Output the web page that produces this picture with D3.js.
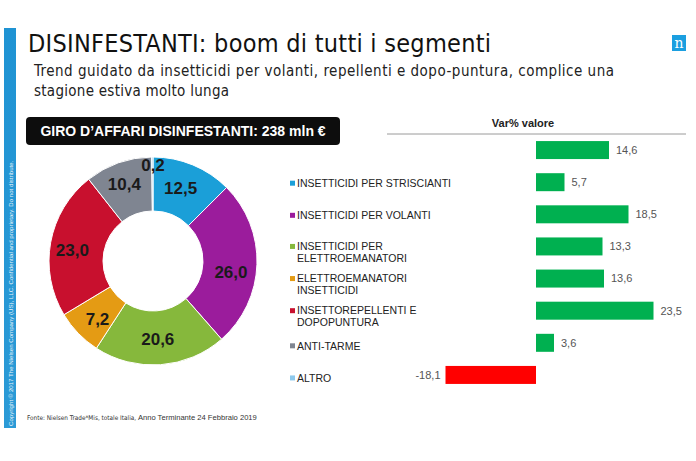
<!DOCTYPE html>
<html lang="it">
<head>
<meta charset="UTF-8">
<title>DISINFESTANTI: boom di tutti i segmenti</title>
<script src="https://d3js.org/d3.v7.min.js"></script>
<style>
    body { margin: 0; padding: 0; background: #fff; }
    svg { display: block; font-family: "Liberation Sans", Arial, sans-serif; }
    .title { font-family: "DejaVu Sans Condensed", "DejaVu Sans", sans-serif; }
</style>
</head>
<body>
<svg id="chart" width="696" height="461"></svg>
<script>
    // quota % del giro d'affari (ciambella)
    const segments = ["INSETTICIDI PER STRISCIANTI", "INSETTICIDI PER VOLANTI", "INSETTICIDI PER ELETTROEMANATORI",
        "ELETTROEMANATORI INSETTICIDI", "INSETTOREPELLENTI E DOPOPUNTURA", "ANTI-TARME", "ALTRO"];
    const legendLines = [["INSETTICIDI PER STRISCIANTI"], ["INSETTICIDI PER VOLANTI"], ["INSETTICIDI PER", "ELETTROEMANATORI"],
        ["ELETTROEMANATORI", "INSETTICIDI"], ["INSETTOREPELLENTI E", "DOPOPUNTURA"], ["ANTI-TARME"], ["ALTRO"]];
    const shares = [12.5, 26.0, 20.6, 7.2, 23.0, 10.4, 0.2];
    const segColors = ["#1b9fd8", "#9b1c9c", "#86b83c", "#e49b14", "#c8102e", "#7f8591", "#8ec9ec"];

    // Var% valore (barre): prima riga = totale
    const barCats = ["TOTALE"].concat(segments);
    const varValues = [14.6, 5.7, 18.5, 13.3, 13.6, 23.5, 3.6, -18.1];

    const fmt = v => v.toFixed(1).replace(".", ",");

    const svg = d3.select("#chart");

    // barra laterale blu
    const defs = svg.append("defs");
    const grad = defs.append("linearGradient").attr("id", "side").attr("x1", 0).attr("y1", 0).attr("x2", 0).attr("y2", 1);
    grad.append("stop").attr("offset", "0%").attr("stop-color", "#1f93d3");
    grad.append("stop").attr("offset", "100%").attr("stop-color", "#2b9ad6");
    svg.append("rect").attr("x", 4).attr("y", 28).attr("width", 12).attr("height", 400).attr("fill", "url(#side)");
    svg.append("text")
        .attr("transform", "translate(12.5,426) rotate(-90)")
        .attr("font-size", 6.1).attr("fill", "#e8f4fb")
        .text("Copyright © 2017 The Nielsen Company (US), LLC. Confidential and proprietary. Do not distribute.");

    // logo
    svg.append("rect").attr("x", 672).attr("y", 35).attr("width", 14).attr("height", 16).attr("fill", "#1b9fe0");
    svg.append("text").attr("x", 679).attr("y", 48).attr("text-anchor", "middle")
        .attr("font-family", "DejaVu Serif, serif").attr("font-size", 14).attr("fill", "#fff").text("n");

    // titoli
    svg.append("text").attr("class", "title").attr("x", 28).attr("y", 52)
        .attr("font-size", 25).attr("fill", "#111").attr("textLength", 463)
        .text("DISINFESTANTI: boom di tutti i segmenti");
    svg.append("text").attr("class", "title").attr("x", 34).attr("y", 76)
        .attr("font-size", 15).attr("fill", "#222").attr("textLength", 580)
        .text("Trend guidato da insetticidi per volanti, repellenti e dopo-puntura, complice una");
    svg.append("text").attr("class", "title").attr("x", 34).attr("y", 96)
        .attr("font-size", 15).attr("fill", "#222").attr("textLength", 195)
        .text("stagione estiva molto lunga");

    // box nero
    svg.append("rect").attr("x", 26).attr("y", 117).attr("width", 314).attr("height", 28).attr("rx", 4).attr("fill", "#0d0d0d");
    svg.append("text").attr("x", 183).attr("y", 136).attr("text-anchor", "middle")
        .attr("font-size", 14).attr("font-weight", "bold").attr("fill", "#fff")
        .text("GIRO D’AFFARI DISINFESTANTI: 238 mln €");

    // ciambella
    const cx = 153, cy = 261, rOut = 104, rIn = 50;
    const pie = d3.pie().sort(null).value(d => d)(shares);
    const arc = d3.arc().innerRadius(rIn).outerRadius(rOut);
    const g = svg.append("g").attr("transform", `translate(${cx},${cy})`);
    g.selectAll("path").data(pie).enter().append("path")
        .attr("d", arc).attr("fill", (d, i) => segColors[i])
        .attr("stroke", "#fff").attr("stroke-width", 1);

    const labelArc = d3.arc().innerRadius(rIn + 30).outerRadius(rIn + 30);
    const labelOffset = [[-3, 1], [-2, 8], [-1, -2], [2, 2], [-2, 3], [-2, -2], [0, 0]];
    g.selectAll("text.lbl").data(pie).enter().append("text")
        .attr("class", "lbl")
        .attr("transform", (d, i) => {
            let p = labelArc.centroid(d);
            if (i === 6) p = [0, -(rOut - 8)];
            return `translate(${p[0] + labelOffset[i][0]},${p[1] + labelOffset[i][1]})`;
        })
        .attr("text-anchor", "middle").attr("dy", "0.35em")
        .attr("font-size", 17).attr("font-weight", "bold").attr("fill", "#1a1a1a")
        .text(d => fmt(d.data));

    // barre Var%
    const y = d3.scaleBand().domain(barCats).range([134, 391]).paddingInner(0.44).paddingOuter(0.22);
    const x = d3.scaleLinear().domain([0, 23.5]).range([536, 653.5]);

    svg.append("text").attr("x", 523).attr("y", 127).attr("text-anchor", "middle")
        .attr("font-size", 11).attr("font-weight", "bold").attr("fill", "#222").text("Var% valore");
    svg.append("line").attr("x1", 387).attr("x2", 686).attr("y1", 134).attr("y2", 134)
        .attr("stroke", "#9a9a9a").attr("stroke-width", 1);

    svg.selectAll("rect.bar").data(varValues).enter().append("rect")
        .attr("class", "bar")
        .attr("x", d => x(Math.min(0, d)))
        .attr("width", d => Math.abs(x(d) - x(0)))
        .attr("y", (d, i) => y(barCats[i]))
        .attr("height", y.bandwidth())
        .attr("fill", d => d < 0 ? "#ff0000" : "#00b050");

    svg.selectAll("text.val").data(varValues).enter().append("text")
        .attr("class", "val")
        .attr("x", d => d < 0 ? x(d) - 5 : x(d) + 7)
        .attr("y", (d, i) => y(barCats[i]) + y.bandwidth() / 2)
        .attr("dy", "0.35em")
        .attr("text-anchor", d => d < 0 ? "end" : "start")
        .attr("font-size", 11).attr("fill", "#555")
        .text(fmt);

    // legenda allineata alle barre dei segmenti
    const leg = svg.selectAll("g.leg").data(segments).enter().append("g")
        .attr("class", "leg")
        .attr("transform", (d, i) => `translate(290,${y(d) + y.bandwidth() / 2 + (legendLines[i].length > 1 ? 0 : 1) + (i >= 5 ? 2 : 0)})`);
    leg.append("rect").attr("x", 0).attr("width", 5).attr("height", 5).attr("y", -2.5)
        .attr("fill", (d, i) => segColors[i]);
    leg.each(function (d, i) {
        const lines = legendLines[i];
        const t = d3.select(this).append("text").attr("font-size", 10.5).attr("fill", "#222");
        lines.forEach((s, k) => {
            t.append("tspan").attr("x", 7)
                .attr("y", k * 12)
                .attr("dy", "0.35em").text(s);
        });
    });

    // fonte
    const src = svg.append("text").attr("x", 27).attr("y", 420).attr("fill", "#333");
    src.append("tspan").attr("font-size", 6.4)
        .attr("font-family", "DejaVu Sans Condensed, sans-serif")
        .text("Fonte: Nielsen Trade*Mis, totale Italia, ");
    src.append("tspan").attr("font-size", 7.6).text("Anno Terminante 24 Febbraio 2019");
</script>
</body>
</html>
